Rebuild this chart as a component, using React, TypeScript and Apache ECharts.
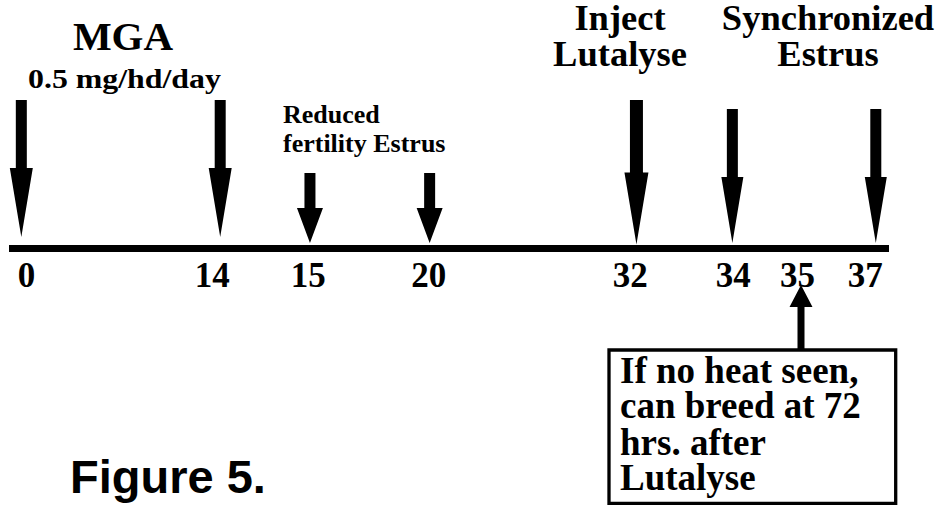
import { useEffect, useRef } from 'react';
import * as echarts from 'echarts';

// Day labels on the timeline and their places along the (schematic) axis, 0–100
const dayLabels = ['0', '14', '15', '20', '32', '34', '35', '37'];
const dayLabelPos = [2.0, 23.1, 34.0, 47.7, 70.6, 82.3, 89.6, 97.3];

// Event arrows: place along the axis and kind
const eventPos = [1.4, 24.0, 34.2, 47.8, 71.3, 82.2, 90.0, 98.5];
const eventKind = ['mga', 'mga', 'early', 'early', 'inject', 'estrus', 'check', 'estrus'];

// Annotation texts
const mgaTitle = 'MGA';
const mgaDose = '0.5 mg/hd/day';
const earlyNote = ['Reduced', 'fertility Estrus'];
const injectNote = ['Inject', 'Lutalyse'];
const syncNote = ['Synchronized', 'Estrus'];
const boxNote = ['If no heat seen,', 'can breed at 72', 'hrs. after', 'Lutalyse'];
const figureTitle = 'Figure 5.';

const SERIF = '"Liberation Serif", "Times New Roman", serif';
const SANS = '"Liberation Sans", Arial, sans-serif';

// arrow geometry (pixel offsets from the timeline)
const ARROWS: Record<string, { top: number; head: number; tip: number; shaft: number; headW: number }> = {
  mga: { top: -148.5, head: -80.5, tip: -11.5, shaft: 11, headW: 23 },
  inject: { top: -148.5, head: -76, tip: -4, shaft: 13, headW: 24 },
  estrus: { top: -139.5, head: -71.5, tip: -5.5, shaft: 11, headW: 22 },
  early: { top: -75.5, head: -40.5, tip: -5.5, shaft: 11, headW: 26 },
  check: { top: 101, head: 58.5, tip: 36.5, shaft: 7, headW: 23 },
};

function txt(text: string, x: number, y: number, size: number, opts: any = {}) {
  return {
    type: 'text',
    x,
    y,
    scaleX: opts.scaleX ?? 1,
    silent: true,
    style: {
      text,
      x: 0,
      y: 0,
      fill: '#000',
      fontSize: size,
      fontWeight: 'bold',
      fontFamily: opts.family ?? SERIF,
      align: opts.align ?? 'center',
      verticalAlign: 'middle',
      lineHeight: Math.round(size * 0.82),
    },
  };
}

export default function App() {
  const ref = useRef<HTMLDivElement>(null);

  useEffect(() => {
    if (!ref.current) return;
    const chart = echarts.init(ref.current, null, { renderer: 'svg' });

    const arrowData = eventPos.map((p, i) => [p, 0, i]);
    const boxMid = [370.4, 405.4, 442.4, 477.4];

    chart.setOption({
      animation: false,
      backgroundColor: '#fff',
      grid: { left: 9, right: 52, top: 0, bottom: 257.5, containLabel: false },
      xAxis: {
        type: 'value',
        min: 0,
        max: 100,
        splitLine: { show: false },
        axisTick: { show: false },
        axisLine: { show: true, lineStyle: { color: '#000', width: 7, cap: 'butt' } },
        axisLabel: {
          show: true,
          customValues: dayLabelPos,
          margin: 9,
          color: '#000',
          fontSize: 35,
          fontWeight: 'bold',
          fontFamily: SERIF,
          hideOverlap: false,
          showMinLabel: true,
          showMaxLabel: true,
          formatter: (v: number) => {
            let best = 0;
            dayLabelPos.forEach((p, i) => {
              if (Math.abs(p - v) < Math.abs(dayLabelPos[best] - v)) best = i;
            });
            return dayLabels[best];
          },
        },
      },
      yAxis: { type: 'value', min: 0, max: 1, show: false },
      series: [
        {
          type: 'custom',
          clip: false,
          silent: true,
          data: arrowData,
          renderItem: (params: any, api: any) => {
            const idx = api.value(2);
            const a = ARROWS[eventKind[idx]];
            const pt = api.coord([api.value(0), api.value(1)]);
            const x = pt[0];
            const y = pt[1];
            const s = a.shaft / 2;
            const h = a.headW / 2;
            return {
              type: 'polygon',
              shape: {
                points: [
                  [x - s, y + a.top],
                  [x + s, y + a.top],
                  [x + s, y + a.head],
                  [x + h, y + a.head],
                  [x, y + a.tip],
                  [x - h, y + a.head],
                  [x - s, y + a.head],
                ],
              },
              style: { fill: '#000', stroke: null },
            };
          },
        },
      ],
      graphic: [
        txt(mgaTitle, 123, 36, 41),
        txt(mgaDose, 28, 79, 27, { align: 'left', scaleX: 1.18 }),
        txt(earlyNote[0], 283, 114.2, 26, { align: 'left' }),
        txt(earlyNote[1], 283, 143.2, 26, { align: 'left' }),
        txt(injectNote[0], 620, 17, 36.5),
        txt(injectNote[1], 620, 53, 36.5),
        txt(syncNote[0], 828, 17, 36.5),
        txt(syncNote[1], 828, 53, 36.5),
        {
          type: 'rect',
          silent: true,
          shape: { x: 609, y: 350, width: 286.7, height: 153.3 },
          style: { fill: 'rgba(0,0,0,0)', stroke: '#000', lineWidth: 3.3 },
        },
        ...boxNote.map((line, i) => txt(line, 620, boxMid[i], 37, { align: 'left' })),
        txt(figureTitle, 70, 476.7, 47, { align: 'left', family: SANS }),
      ],
    });

    return () => chart.dispose();
  }, []);

  return (
    <div
      ref={ref}
      style={{ position: 'absolute', left: 0, top: 0, width: 941, height: 506 }}
    />
  );
}
